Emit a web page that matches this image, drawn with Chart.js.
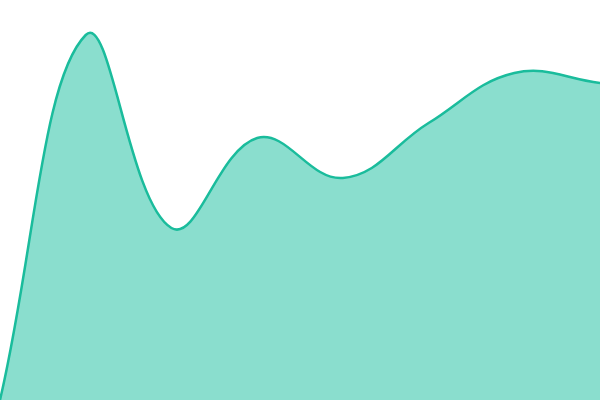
<!DOCTYPE html>
<html>
<head>
<meta charset="utf-8">
<script src="https://cdn.jsdelivr.net/npm/chart.js@4"></script>
<style>
  html, body { margin: 0; padding: 0; background: #fff; }
  #wrap { width: 600px; height: 400px; }
</style>
</head>
<body>
<div id="wrap"><canvas id="myChart"></canvas></div>
<script>
var labels = ['1', '2', '3', '4', '5', '6', '7', '8'];
var values = [0, 365, 172, 262, 222, 277, 327, 317];

document.addEventListener('DOMContentLoaded', function() {
    var ctx = document.getElementById('myChart').getContext('2d');

    new Chart(ctx, {
        type: 'line',
        data: {
            labels: labels,
            datasets: [{
                data: values,
                borderColor: '#1abc9c',
                backgroundColor: 'rgba(22, 190, 158, 0.5)',
                borderWidth: 2.5,
                fill: true,
                tension: 0.4,
                pointRadius: 0
            }]
        },
        options: {
            responsive: true,
            maintainAspectRatio: false,
            animation: false,
            layout: { padding: 0 },
            plugins: { legend: { display: false }, tooltip: { enabled: false } },
            scales: {
                x: { display: false },
                y: { display: false, min: 0, max: 400 }
            }
        }
    });
});
</script>
</body>
</html>
